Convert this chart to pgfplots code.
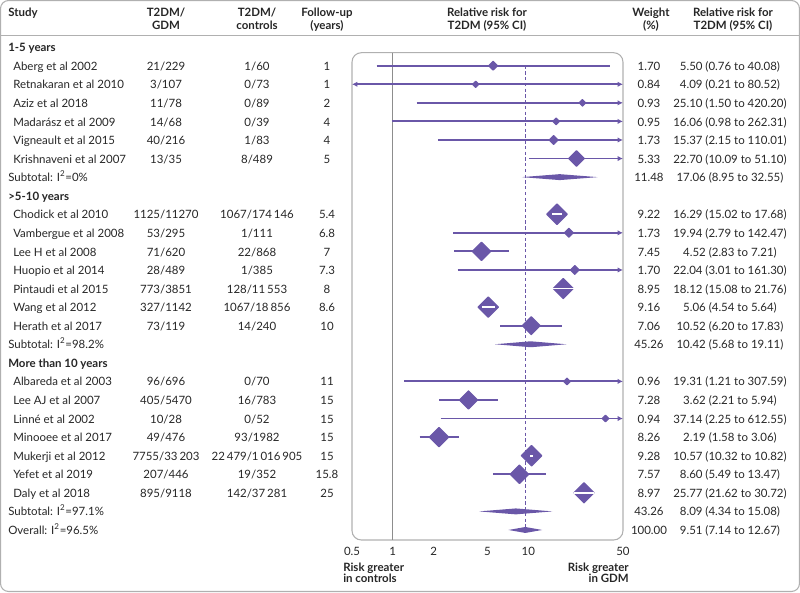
\documentclass[border=0pt]{standalone}
\usepackage{fontspec}
\setmainfont{Lato}
\usepackage{pgfplots}
\pgfplotsset{compat=1.18}
\usetikzlibrary{arrows.meta}

\definecolor{purp}{HTML}{6A57A8}
\definecolor{txt}{HTML}{262626}
\definecolor{frm}{HTML}{B0B0B0}

\newcommand\fs{\fontsize{8.6}{10}\selectfont}
% row centre in pixels
\newcommand\py[1]{65.7+18.57*(#1)}
\newcommand\study[7]{%
  \node[anchor=base west] at (13,{\py{#1}+4.6}) {#2};
  \node at (166,{\py{#1}+4.6}) {#3};
  \node at (257,{\py{#1}+4.6}) {#4};
  \node at (327,{\py{#1}+4.6}) {#5};
  \node at (649,{\py{#1}+4.6}) {#6};
  \node at (730,{\py{#1}+4.6}) {#7};}
\newcommand\summ[4]{%
  \node[anchor=base west] at (8,{\py{#1}+4.6}) {#2};
  \node at (649,{\py{#1}+4.6}) {#3};
  \node at (730,{\py{#1}+4.6}) {#4};}
\newcommand\group[2]{%
  \node[anchor=base west] at (8,{\py{#1}+4.6}) {\bfseries #2};}

\begin{document}
\begin{tikzpicture}
\begin{scope}[x=0.75pt,y=-0.75pt,every node/.style={anchor=base,inner sep=0pt,font=\fs,text=txt}]
  \draw[frm,line width=0.8pt,rounded corners=6pt] (0.5,0.5) rectangle (799.5,591.5);
  \draw[frm,line width=0.6pt] (0.5,35) -- (799.5,35);
  % header
  \begin{scope}[every node/.append style={font=\fs\bfseries}]
    \node[anchor=base west] at (8,16) {Study};
    \node at (166,16) {T2DM/};   \node at (166,29) {GDM};
    \node at (257,16) {T2DM/};   \node at (257,29) {controls};
    \node at (327,16) {Follow-up}; \node at (327,29) {(years)};
    \node at (487,16) {Relative risk for}; \node at (487,29) {T2DM (95\% CI)};
    \node at (651,16) {Weight};  \node at (651,29) {(\%)};
    \node at (733,16) {Relative risk for}; \node at (733,29) {T2DM (95\% CI)};
    \node[anchor=base west] at (343,572) {Risk greater};
    \node[anchor=base west] at (343,583) {in controls};
    \node[anchor=base east] at (629,572) {Risk greater};
    \node[anchor=base east] at (629,583) {in GDM};
  \end{scope}
  \group{-1}{1-5 years}
  \study{0}{Aberg et al 2002}{21/229}{1/60}{1}{1.70}{5.50 (0.76 to 40.08)}
  \study{1}{Retnakaran et al 2010}{3/107}{0/73}{1}{0.84}{4.09 (0.21 to 80.52)}
  \study{2}{Aziz et al 2018}{11/78}{0/89}{2}{0.93}{25.10 (1.50 to 420.20)}
  \study{3}{Madarász et al 2009}{14/68}{0/39}{4}{0.95}{16.06 (0.98 to 262.31)}
  \study{4}{Vigneault et al 2015}{40/216}{1/83}{4}{1.73}{15.37 (2.15 to 110.01)}
  \study{5}{Krishnaveni et al 2007}{13/35}{8/489}{5}{5.33}{22.70 (10.09 to 51.10)}
  \summ{6}{Subtotal: I\textsuperscript{2}=0\%}{11.48}{17.06 (8.95 to 32.55)}
  \group{7}{>5-10 years}
  \study{8}{Chodick et al 2010}{1125/11270}{1067/174\,146}{5.4}{9.22}{16.29 (15.02 to 17.68)}
  \study{9}{Vambergue et al 2008}{53/295}{1/111}{6.8}{1.73}{19.94 (2.79 to 142.47)}
  \study{10}{Lee H et al 2008}{71/620}{22/868}{7}{7.45}{4.52 (2.83 to 7.21)}
  \study{11}{Huopio et al 2014}{28/489}{1/385}{7.3}{1.70}{22.04 (3.01 to 161.30)}
  \study{12}{Pintaudi et al 2015}{773/3851}{128/11\,553}{8}{8.95}{18.12 (15.08 to 21.76)}
  \study{13}{Wang et al 2012}{327/1142}{1067/18\,856}{8.6}{9.16}{5.06 (4.54 to 5.64)}
  \study{14}{Herath et al 2017}{73/119}{14/240}{10}{7.06}{10.52 (6.20 to 17.83)}
  \summ{15}{Subtotal: I\textsuperscript{2}=98.2\%}{45.26}{10.42 (5.68 to 19.11)}
  \group{16}{More than 10 years}
  \study{17}{Albareda et al 2003}{96/696}{0/70}{11}{0.96}{19.31 (1.21 to 307.59)}
  \study{18}{Lee AJ et al 2007}{405/5470}{16/783}{15}{7.28}{3.62 (2.21 to 5.94)}
  \study{19}{Linné et al 2002}{10/28}{0/52}{15}{0.94}{37.14 (2.25 to 612.55)}
  \study{20}{Minooee et al 2017}{49/476}{93/1982}{15}{8.26}{2.19 (1.58 to 3.06)}
  \study{21}{Mukerji et al 2012}{7755/33\,203}{22\,479/1\,016\,905}{15}{9.28}{10.57 (10.32 to 10.82)}
  \study{22}{Yefet et al 2019}{207/446}{19/352}{15.8}{7.57}{8.60 (5.49 to 13.47)}
  \study{23}{Daly et al 2018}{895/9118}{142/37\,281}{25}{8.97}{25.77 (21.62 to 30.72)}
  \summ{24}{Subtotal: I\textsuperscript{2}=97.1\%}{43.26}{8.09 (4.34 to 15.08)}
  \summ{25}{Overall: I\textsuperscript{2}=96.5\%}{100.00}{9.51 (7.14 to 12.67)}
\end{scope}

\begin{axis}[
  at={(264pt,-405pt)}, anchor=south west,
  width=203.25pt, height=365.5pt, scale only axis,
  xmode=log, xmin=0.5, xmax=50,
  ymin=-0.70, ymax=25.54, y dir=reverse,
  clip=false, clip marker paths=true,
  axis line style={draw=none},
  major tick length=0pt,
  ytick=\empty,
  xtick={0.5,1,2,5,10,50},
  xticklabels={0.5,1,2,5,10,50},
  xticklabel style={font=\fs,text=txt,yshift=-2pt},
  unbounded coords=jump,
]
  \draw[frm,line width=0.8pt,rounded corners=7pt] (rel axis cs:0,0) rectangle (rel axis cs:1,1);
  % line of no effect and overall estimate
  \addplot[frm!80!black,line width=0.7pt] coordinates {(1,-0.70) (1,25.54)};
  \addplot[purp,line width=0.7pt,dash pattern=on 2.5pt off 1.8pt] coordinates {(9.51,0) (9.51,25.2)};
  % confidence intervals inside the panel
  \addplot[purp,line width=1.4pt] coordinates {
    (0.76,0) (40.08,0) (nan,nan)
    (2.83,10) (7.21,10) (nan,nan)
    (6.20,14) (17.83,14) (nan,nan)
    (2.21,18) (5.94,18) (nan,nan)
    (1.58,20) (3.06,20) (nan,nan)
    (5.49,22) (13.47,22)};
  % confidence intervals past the panel
  \pgfplotsset{cut/.style={purp,line width=1.4pt,-{Latex[length=4pt,width=4pt]}}}
  \addplot[purp,line width=1.4pt,{Latex[length=4pt,width=4pt]}-{Latex[length=4pt,width=4pt]}] coordinates {(0.5,1) (50,1)};
  \addplot[cut] coordinates {(1.50,2) (50,2)};
  \addplot[cut] coordinates {(0.98,3) (50,3)};
  \addplot[cut] coordinates {(2.15,4) (50,4)};
  \addplot[cut] coordinates {(10.09,5) (50,5)};
  \addplot[cut] coordinates {(2.79,9) (50,9)};
  \addplot[cut] coordinates {(3.01,11) (50,11)};
  \addplot[cut] coordinates {(1.21,17) (50,17)};
  \addplot[cut] coordinates {(2.25,19) (50,19)};
  % study estimates, sized by weight
  \addplot[scatter, only marks, mark=square*,
    mark options={rotate=45,line width=0.9pt,line join=round},
    scatter/use mapped color={draw=purp,fill=purp},
    visualization depends on={1.78*sqrt(\thisrow{w}) \as \ms},
    scatter/@pre marker code/.append style={/tikz/mark size=\ms}]
    table[x=x,y=y] {
    x     y  w
    5.50  0  1.70
    4.09  1  0.84
    25.10 2  0.93
    16.06 3  0.95
    15.37 4  1.73
    22.70 5  5.33
    16.29 8  9.22
    19.94 9  1.73
    4.52  10 7.45
    22.04 11 1.70
    18.12 12 8.95
    5.06  13 9.16
    10.52 14 7.06
    19.31 17 0.96
    3.62  18 7.28
    37.14 19 0.94
    2.19  20 8.26
    10.57 21 9.28
    8.60  22 7.57
    25.77 23 8.97
  };
  % intervals that lie inside their marker
  \addplot[white,line width=1.3pt] coordinates {
    (15.02,8) (17.68,8) (nan,nan)
    (15.08,12) (21.76,12) (nan,nan)
    (4.54,13) (5.64,13) (nan,nan)
    (10.32,21) (10.82,21) (nan,nan)
    (21.62,23) (30.72,23)};
  % pooled estimates
  \addplot[fill=purp,draw=none] coordinates {(8.95,6) (17.06,5.84) (32.55,6) (17.06,6.16)} --cycle;
  \addplot[fill=purp,draw=none] coordinates {(5.68,15) (10.42,14.84) (19.11,15) (10.42,15.16)} --cycle;
  \addplot[fill=purp,draw=none] coordinates {(4.34,24) (8.09,23.84) (15.08,24) (8.09,24.16)} --cycle;
  \addplot[fill=purp,draw=none] coordinates {(7.14,25) (9.51,24.84) (12.67,25) (9.51,25.16)} --cycle;
\end{axis}
\end{tikzpicture}
\end{document}
